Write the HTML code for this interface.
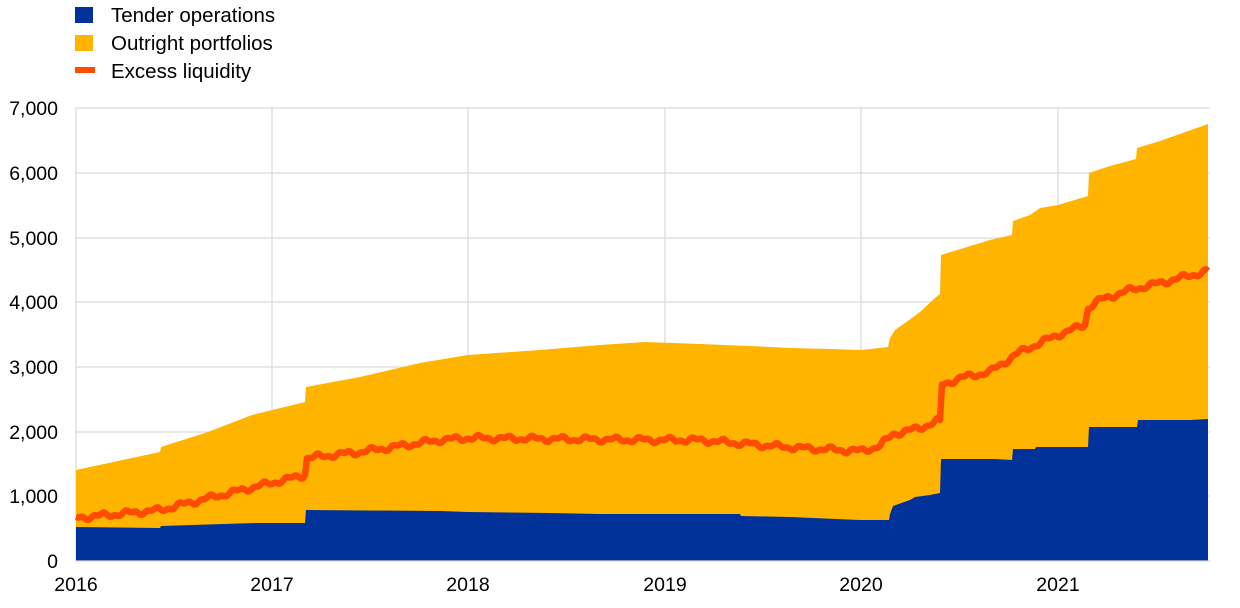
<!DOCTYPE html>
<html><head><style>
body{margin:0;background:#fff;width:1240px;height:603px;overflow:hidden;font-family:"Liberation Sans",Arial,sans-serif}
</style></head><body>
<svg id="s" width="1240" height="603" xmlns="http://www.w3.org/2000/svg" font-family="Liberation Sans, Arial, sans-serif">
<g stroke="#d9d9d9" stroke-width="1.2">
<line x1="76" y1="108" x2="1210" y2="108"/><line x1="76" y1="173" x2="1210" y2="173"/><line x1="76" y1="238" x2="1210" y2="238"/><line x1="76" y1="302" x2="1210" y2="302"/><line x1="76" y1="367" x2="1210" y2="367"/><line x1="76" y1="432" x2="1210" y2="432"/><line x1="76" y1="496" x2="1210" y2="496"/>
<line x1="76" y1="108" x2="76" y2="561"/><line x1="272" y1="108" x2="272" y2="561"/><line x1="468" y1="108" x2="468" y2="561"/><line x1="665" y1="108" x2="665" y2="561"/><line x1="861" y1="108" x2="861" y2="561"/><line x1="1058" y1="108" x2="1058" y2="561"/>
</g>
<polygon fill="#ffb400" points="76,561 76,470 160,452 161,447 208,432 252,415 305,402 306,387 360,377 420,363 468,355 540,350 600,345 645,342 700,344 750,346 790,348 830,349 861,350 888,347 890,338 895,330 905,323 920,312 935,298 940,294 941,255 990,240 1012,235 1013,221 1030,215 1040,208 1058,205 1088,196 1089,173 1110,166 1136,159 1137,148 1160,141 1208,124 1208,561"/>
<polygon fill="#003299" points="76,561 76,527 160,528 161,526 255,523 305,523 306,510 440,511 468,512 550,513 600,514 740,514 741,516 790,517 860,520 889,520 890,514 893,506 910,500 915,497 930,495 940,493 941,459 995,459 1012,460 1013,449 1035,449 1036,447 1088,447 1089,427 1137,427 1138,420 1190,420 1208,419 1208,561"/>
<polyline id="ex" fill="none" stroke="#ff4b00" stroke-width="6.5" stroke-linejoin="round" points=""/>
<line x1="76" y1="561" x2="1210" y2="561" stroke="#d9d9d9" stroke-width="1.2"/>
<g font-size="19.5" fill="#000" text-anchor="end">
<text x="58" y="115">7,000</text><text x="58" y="180">6,000</text><text x="58" y="245">5,000</text><text x="58" y="309">4,000</text><text x="58" y="374">3,000</text><text x="58" y="439">2,000</text><text x="58" y="503">1,000</text><text x="58" y="568">0</text>
</g>
<g font-size="19.5" fill="#000" text-anchor="middle">
<text x="76" y="591">2016</text><text x="272" y="591">2017</text><text x="468" y="591">2018</text><text x="665" y="591">2019</text><text x="861" y="591">2020</text><text x="1058" y="591">2021</text>
</g>
<rect x="75" y="7" width="18" height="16" fill="#003299"/>
<rect x="75" y="35" width="18" height="16" fill="#ffb400"/>
<rect x="75" y="67" width="20" height="6" fill="#ff4b00"/>
<g font-size="20.5" fill="#000">
<text x="111" y="22">Tender operations</text><text x="111" y="50">Outright portfolios</text><text x="111" y="78">Excess liquidity</text>
</g>
</svg>
<script>
var k=[[76,518],[160,510],[250,488],[305,475],[307,458],[360,452],[400,446],[440,440],[468,438],[560,439],[650,440],[700,440],[760,445],[800,448],[861,451],[880,446],[893,434],[920,428],[935,422],[940,420],[942,385],[960,378],[990,372],[1000,365],[1020,352],[1060,334],[1085,325],[1088,308],[1100,300],[1130,290],[1160,283],[1208,271]];
var p=[];
for(var i=0;i<k.length-1;i++){var a=k[i],b=k[i+1];var n=Math.max(1,Math.round((b[0]-a[0])/2));
for(var j=0;j<n;j++){var t=j/n;var x=a[0]+(b[0]-a[0])*t;var y=a[1]+(b[1]-a[1])*t;if(b[0]-a[0]>4)y+=2*Math.sin(x/4.3)+1.2*Math.sin(x/1.7);p.push(x.toFixed(1)+","+y.toFixed(1));}}
p.push("1208,271");
document.getElementById("ex").setAttribute("points",p.join(" "));
</script>
</body></html>
